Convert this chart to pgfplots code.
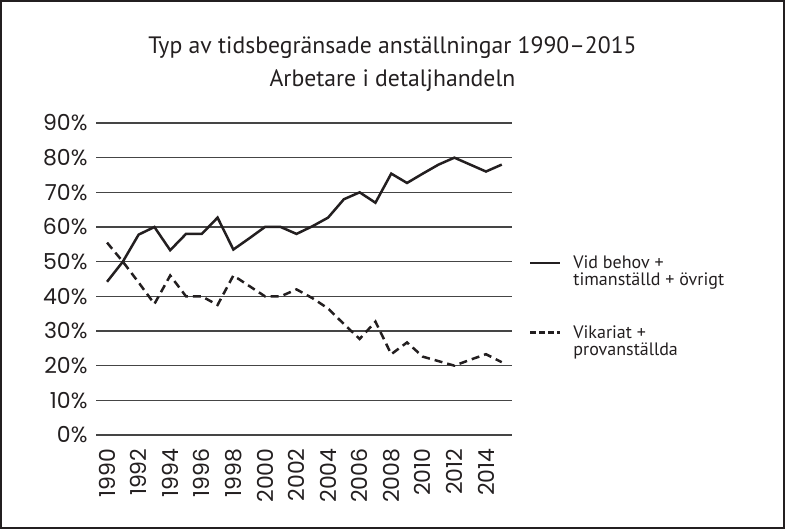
\documentclass[border=0pt]{standalone}
\usepackage{pgfplots}
\pgfplotsset{compat=1.18}
\usepackage{fontspec}
\setmainfont{PT Sans}
\newfontfamily\tickfont{Poppins}
\definecolor{ink}{HTML}{231F20}
\definecolor{gridc}{HTML}{454545}
\begin{document}
\begin{tikzpicture}[x=1bp,y=1bp]
\draw[ink,line width=1.6bp] (0.8,0.8) rectangle (784.2,528.2);
\node[align=center,font=\fontsize{23.7bp}{33bp}\selectfont,text=ink] at (392.5,465) {Typ av tidsbegränsade anställningar 1990–2015\\Arbetare i detaljhandeln};
\begin{axis}[
  at={(96bp,94bp)}, anchor=south west,
  scale only axis, width=416bp, height=312bp,
  xmin=1989.3, xmax=2015.65, ymin=0, ymax=90,
  axis line style={draw=none}, tick style={draw=none},
  ytick={0,10,...,90},
  yticklabel={\pgfmathprintnumber{\tick}\%},
  xtick={1990,1992,...,2014},
  x tick label style={rotate=90, anchor=east, /pgf/number format/1000 sep={}},
  /pgf/number format/assume math mode=true,
  tick label style={font=\tickfont\fontsize{22bp}{24bp}\selectfont, text=ink},
  yticklabel style={xshift=-5bp},
  xticklabel style={xshift=-10bp},
  ymajorgrids, grid style={gridc, line width=1.4bp},
  clip=false,
  legend style={draw=none, fill=none, at={(rel axis cs:1.04,0.585)}, anchor=north west,
    font=\fontsize{18bp}{20bp}\selectfont, text=ink, inner sep=0pt, column sep=10bp,
    row sep=50bp, cells={anchor=base west}},
  legend image code/.code={\path (0bp,0bp); \draw[#1, line width=2.6bp] (0bp,5.5bp) -- (30bp,5.5bp);},
]
\addplot[ink, line width=2.5bp, line join=miter] coordinates {
(1990,44.2) (1991,50) (1992,57.8) (1993,60) (1994,53.3) (1995,58) (1996,58) (1997,62.7)
(1998,53.5) (1999,56.7) (2000,60) (2001,60) (2002,58) (2003,60.2) (2004,62.7) (2005,68)
(2006,70) (2007,67) (2008,75.4) (2009,72.7) (2010,75.4) (2011,78) (2012,80) (2013,78)
(2014,76) (2015,78)};
\addlegendentry{\begin{tabular}[t]{@{}l@{}}Vid behov +\\[-3bp]timanställd + övrigt\end{tabular}}
\addplot[ink, line width=2.5bp, dash pattern=on 8bp off 5bp,
  legend image post style={dash pattern=on 6bp off 3bp}] coordinates {
(1990,55.5) (1991,50) (1992,44) (1993,37.8) (1994,46) (1995,40) (1996,40) (1997,37.5)
(1998,46) (1999,43) (2000,40) (2001,40) (2002,42) (2003,39.5) (2004,36.5) (2005,32)
(2006,27.7) (2007,32.7) (2008,23.3) (2009,26.7) (2010,22.6) (2011,21.3) (2012,20) (2013,21.7)
(2014,23.3) (2015,21)};
\addlegendentry{\begin{tabular}[t]{@{}l@{}}Vikariat +\\[-3bp]provanställda\end{tabular}}
\end{axis}
\end{tikzpicture}
\end{document}
